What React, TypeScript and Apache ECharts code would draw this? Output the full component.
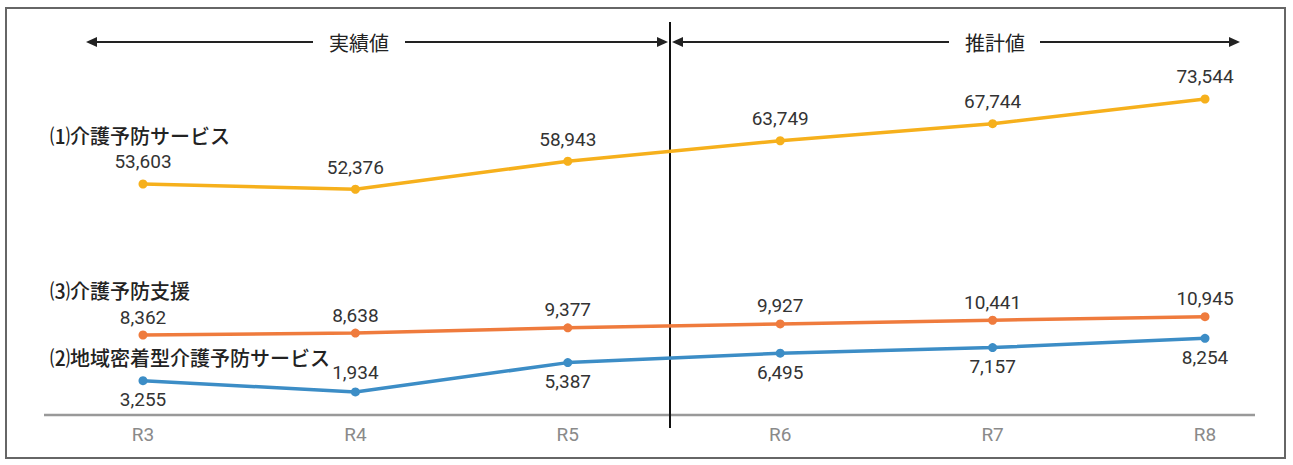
import React, { useEffect, useRef } from "react";
import * as echarts from "echarts";

// 年度
const categories = ["R3", "R4", "R5", "R6", "R7", "R8"];

// (1) 介護予防サービス
const preventionService = [53603, 52376, 58943, 63749, 67744, 73544];
// (3) 介護予防支援
const preventionSupport = [8362, 8638, 9377, 9927, 10441, 10945];
// (2) 地域密着型介護予防サービス
const communityService = [3255, 1934, 5387, 6495, 7157, 8254];

const seriesNames = ["⑴介護予防サービス", "⑶介護予防支援", "⑵地域密着型介護予防サービス"];
const periodLabels = ["実績値", "推計値"];

// label placement for the community series (above or below each point)
const communityLabelPos = ["bottom", "top", "bottom", "bottom", "bottom", "bottom"];

const NUM_FONT = "Roboto, 'Noto Sans', sans-serif";
const JP_FONT = "'Noto Sans CJK JP', 'Noto Sans', sans-serif";

const fmt = (p: any) => Number(p.value).toLocaleString("en-US");

export default function App() {
  const ref = useRef<HTMLDivElement>(null);

  useEffect(() => {
    if (!ref.current) return;
    const chart = echarts.init(ref.current, null, { renderer: "svg" });

    const arrowY = 42;
    const head = (tipX: number, dir: 1 | -1) => ({
      type: "polygon",
      shape: {
        points: [
          [tipX, arrowY],
          [tipX - dir * 11, arrowY - 5],
          [tipX - dir * 11, arrowY + 5],
        ],
      },
      style: { fill: "#222" },
    });
    const hline = (x1: number, x2: number) => ({
      type: "line",
      shape: { x1, y1: arrowY, x2, y2: arrowY },
      style: { stroke: "#222", lineWidth: 2 },
    });

    const label = (text: string, x: number, y: number) => ({
      type: "text",
      x,
      y,
      style: {
        text,
        fill: "#222",
        font: `500 20px ${JP_FONT}`,
        textVerticalAlign: "middle",
      },
    });

    const periodText = (text: string, x: number) => ({
      type: "text",
      x,
      y: arrowY,
      style: {
        text,
        fill: "#222",
        font: `20px ${JP_FONT}`,
        textAlign: "center",
        textVerticalAlign: "middle",
      },
    });

    const valueLabel = {
      show: true,
      formatter: fmt,
      color: "#333",
      fontSize: 19,
      fontFamily: NUM_FONT,
    };

    chart.setOption({
      animation: false,
      backgroundColor: "#fff",
      grid: { left: 143, right: 88, top: 40, bottom: 50 },
      xAxis: {
        type: "category",
        data: categories,
        boundaryGap: false,
        axisLine: { show: false },
        axisTick: { show: false },
        splitLine: { show: false },
        axisLabel: { color: "#8a8a8a", fontSize: 19, fontFamily: NUM_FONT, margin: 10 },
      },
      yAxis: [
        { type: "value", show: false, min: -590, max: 87385 },
        { type: "value", show: false, min: -2926, max: 49987 },
        { type: "value", show: false, min: -789, max: 43424 },
      ],
      series: [
        {
          name: seriesNames[0],
          type: "line",
          yAxisIndex: 0,
          data: preventionService,
          color: "#F6B01C",
          symbol: "circle",
          symbolSize: 9,
          lineStyle: { width: 3.5 },
          label: { ...valueLabel, position: "top", distance: 8 },
        },
        {
          name: seriesNames[1],
          type: "line",
          yAxisIndex: 1,
          data: preventionSupport,
          color: "#EF7B3D",
          symbol: "circle",
          symbolSize: 9,
          lineStyle: { width: 3.5 },
          label: { ...valueLabel, position: "top", distance: 4 },
        },
        {
          name: seriesNames[2],
          type: "line",
          yAxisIndex: 2,
          data: communityService.map((v, i) => ({
            value: v,
            label: { position: communityLabelPos[i] },
          })),
          color: "#3C8DC6",
          symbol: "circle",
          symbolSize: 9,
          lineStyle: { width: 3.5 },
          label: { ...valueLabel, distance: 5 },
        },
      ],
      graphic: [
        // frame
        {
          type: "rect",
          shape: { x: 6, y: 8, width: 1279, height: 450 },
          style: { fill: "none", stroke: "#666", lineWidth: 2 },
        },
        // category axis base line
        {
          type: "line",
          shape: { x1: 44, y1: 415, x2: 1255, y2: 415 },
          style: { stroke: "#999", lineWidth: 2.5 },
        },
        // divider between actual and projected years
        {
          type: "line",
          shape: { x1: 670, y1: 22, x2: 670, y2: 428 },
          style: { stroke: "#111", lineWidth: 2 },
        },
        // 実績値 span
        head(86, -1),
        hline(92, 313),
        periodText(periodLabels[0], 359),
        hline(405, 662),
        head(668, 1),
        // 推計値 span
        head(672, -1),
        hline(678, 949),
        periodText(periodLabels[1], 995),
        hline(1040, 1234),
        head(1240, 1),
        // series names
        label(seriesNames[0], 50, 135),
        label(seriesNames[1], 50, 290),
        label(seriesNames[2], 50, 357),
      ],
    });

    return () => chart.dispose();
  }, []);

  return (
    <div
      ref={ref}
      style={{ position: "fixed", left: 0, top: 0, width: 1293, height: 465 }}
    />
  );
}
